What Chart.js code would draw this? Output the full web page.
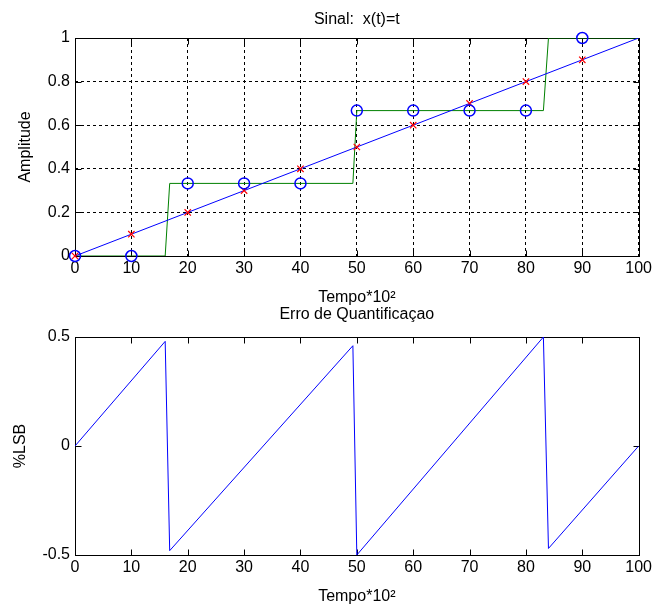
<!DOCTYPE html>
<html>
<head>
<meta charset="utf-8">
<script src="https://cdn.jsdelivr.net/npm/chart.js@4/dist/chart.umd.min.js"></script>
<style>
  body { margin: 0; background: #fff; }
  #wrap { position: relative; width: 655px; height: 607px; }
  canvas { position: absolute; left: 0; }
  #sinal { top: 0; }
  #erro { top: 300px; }
</style>
</head>
<body>
<div id="wrap">
  <canvas id="sinal" width="655" height="310"></canvas>
  <canvas id="erro" width="655" height="307"></canvas>
</div>
<script>
// valores
const tempoLinha = [0, 100];
const sinalLinha = [0, 1];

const tempoAmostras = [0, 10, 20, 30, 40, 50, 60, 70, 80, 90];
const sinalAmostras = [0, 0.1, 0.2, 0.3, 0.4, 0.5, 0.6, 0.7, 0.8, 0.9];
const sinalQuantizado = [0, 0, 0.333, 0.333, 0.333, 0.667, 0.667, 0.667, 0.667, 1];

const tempoDegrau = [0, 16.0, 16.8, 49.3, 50.0, 83.1, 84.0, 100];
const valorDegrau = [0, 0, 0.333, 0.333, 0.667, 0.667, 1, 1];

const tempoErro = [0, 16.0, 16.8, 49.3, 50.0, 83.1, 84.0, 100];
const valorErro = [0, 0.48, -0.48, 0.46, -0.50, 0.50, -0.47, 0];

const ticksTempo = [0, 10, 20, 30, 40, 50, 60, 70, 80, 90, 100];
const ticksAmplitude = [0, 0.2, 0.4, 0.6, 0.8, 1];
const ticksErro = [-0.5, 0, 0.5];

Chart.defaults.font.family = '"Liberation Sans", Arial, sans-serif';
Chart.defaults.font.size = 16;
Chart.defaults.color = '#000';

function pontos(xs, ys) {
    return xs.map((x, i) => ({ x: x, y: ys[i] }));
}

// caixa preta em volta do grafico + marcas dos ticks para dentro (estilo matlab)
const caixa = {
    id: 'caixa',
    beforeDatasetsDraw(chart) {
        const ctx = chart.ctx;
        const a = chart.chartArea;
        const sx = chart.scales.x;
        const sy = chart.scales.y;
        const L = Math.round(a.left) + 0.5, R = Math.round(a.right) + 0.5;
        const T = Math.round(a.top) + 0.5, B = Math.round(a.bottom) + 0.5;
        ctx.save();
        ctx.strokeStyle = '#000';
        ctx.lineWidth = 1;
        ctx.setLineDash([]);
        ctx.beginPath();
        sx.ticks.forEach(function(t) {
            const px = Math.round(sx.getPixelForValue(t.value)) + 0.5;
            ctx.moveTo(px, B); ctx.lineTo(px, B - 6);
            ctx.moveTo(px, T); ctx.lineTo(px, T + 6);
        });
        sy.ticks.forEach(function(t) {
            const py = Math.round(sy.getPixelForValue(t.value)) + 0.5;
            ctx.moveTo(L, py); ctx.lineTo(L + 6, py);
            ctx.moveTo(R, py); ctx.lineTo(R - 6, py);
        });
        ctx.stroke();
        ctx.strokeRect(L, T, R - L, B - T);
        ctx.restore();
    }
};

function eixoX(altura, padTitulo, grade) {
    return {
        type: 'linear',
        min: 0,
        max: 100,
        afterBuildTicks: s => { s.ticks = ticksTempo.map(v => ({ value: v })); },
        afterFit: s => { s.height = altura; },
        ticks: { padding: 3, maxRotation: 0, autoSkip: false },
        grid: { display: grade, drawTicks: false, color: '#000', lineWidth: 1 },
        border: { display: false, dash: [3, 3] },
        title: { display: true, text: 'Tempo*10²', padding: { top: 0, bottom: padTitulo } }
    };
}

function eixoY(min, max, lista, titulo, padTitulo, grade) {
    return {
        type: 'linear',
        min: min,
        max: max,
        afterBuildTicks: s => { s.ticks = lista.map(v => ({ value: v })); },
        afterFit: s => { s.width = 75; },
        ticks: { padding: 5, callback: v => String(v) },
        grid: { display: grade, drawTicks: false, color: '#000', lineWidth: 1 },
        border: { display: false, dash: [3, 3] },
        title: { display: true, text: titulo, padding: { top: padTitulo, bottom: 0 } }
    };
}

// grafico de cima: sinal x(t)=t
new Chart(document.getElementById('sinal'), {
    type: 'scatter',
    data: {
        datasets: [
            {
                data: pontos(tempoAmostras, sinalQuantizado),
                showLine: false,
                pointStyle: 'circle',
                pointRadius: 5.5,
                borderColor: '#0000ff',
                backgroundColor: 'rgba(0,0,0,0)',
                borderWidth: 1.5,
                clip: false
            },
            {
                data: pontos(tempoAmostras, sinalAmostras),
                showLine: false,
                pointStyle: 'crossRot',
                pointRadius: 4.5,
                borderColor: '#ff0000',
                borderWidth: 1.2,
                clip: false
            },
            {
                data: pontos(tempoLinha, sinalLinha),
                showLine: true,
                pointRadius: 0,
                borderColor: '#0000ff',
                borderWidth: 1
            },
            {
                data: pontos(tempoDegrau, valorDegrau),
                showLine: true,
                pointRadius: 0,
                borderColor: '#008000',
                borderWidth: 1
            }
        ]
    },
    options: {
        responsive: false,
        animation: false,
        layout: { padding: { left: 0, right: 14, top: 0, bottom: 0 } },
        plugins: {
            legend: { display: false },
            tooltip: { enabled: false },
            title: {
                display: true,
                text: 'Sinal:  x(t)=t',
                fullSize: false,
                font: { weight: 'normal' },
                padding: { top: 10.4, bottom: 8.4 }
            }
        },
        scales: {
            x: eixoX(54, 2.4, true),
            y: eixoY(0, 1, ticksAmplitude, 'Amplitude', 15.9, true)
        }
    },
    plugins: [caixa]
});

// grafico de baixo: erro de quantificacao
new Chart(document.getElementById('erro'), {
    type: 'scatter',
    data: {
        datasets: [
            {
                data: pontos(tempoErro, valorErro),
                showLine: true,
                pointRadius: 0,
                borderColor: '#0000ff',
                borderWidth: 1
            }
        ]
    },
    options: {
        responsive: false,
        animation: false,
        layout: { padding: { left: 0, right: 14, top: 0, bottom: 0 } },
        plugins: {
            legend: { display: false },
            tooltip: { enabled: false },
            title: {
                display: true,
                text: 'Erro de Quantificaçao',
                fullSize: false,
                font: { weight: 'normal' },
                padding: { top: 5.4, bottom: 12.4 }
            }
        },
        scales: {
            x: eixoX(52, 0.4, false),
            y: eixoY(-0.5, 0.5, ticksErro, '%LSB', 11.4, false)
        }
    },
    plugins: [caixa]
});
</script>
</body>
</html>
